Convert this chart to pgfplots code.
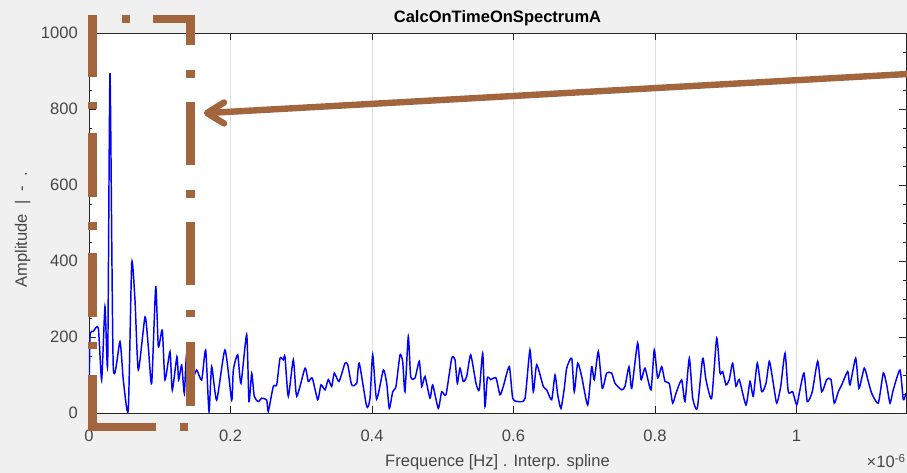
\documentclass[border=0pt]{standalone}
\usepackage{pgfplots}
\pgfplotsset{compat=1.18}
\usepackage{fontspec}
\setmainfont{Liberation Sans}
\definecolor{bgcol}{HTML}{F0F0F0}
\definecolor{axcol}{HTML}{262626}
\definecolor{gridcol}{HTML}{DFDFDF}
\definecolor{brn}{HTML}{A2653E}
\pgfplotstableread{
x y
0 0
0.0014 200
0.0061 215
0.0132 223
0.0179 87
0.0226 280
0.0264 131
0.0297 894
0.0343 122
0.0438 188
0.0485 87
0.0555 8
0.0604 394
0.0650 297
0.0697 113
0.0792 253
0.0838 175
0.0886 78
0.0943 332
0.0980 175
0.1036 218
0.1074 87
0.1145 161
0.1177 60
0.1243 148
0.1267 87
0.1310 126
0.1347 52
0.1381 157
0.1456 90
0.1522 113
0.1593 87
0.1649 166
0.1696 4
0.1734 122
0.1805 34
0.1922 166
0.2017 34
0.2040 113
0.2102 153
0.2148 78
0.2229 206
0.2261 30
0.2300 104
0.2336 44
0.2393 30
0.2441 39
0.2512 34
0.2534 4
0.2605 70
0.2653 74
0.2700 144
0.2746 140
0.2770 148
0.2817 44
0.2888 140
0.2936 44
0.3053 118
0.3100 83
0.3156 92
0.3233 35
0.3279 74
0.3336 61
0.3382 88
0.3430 70
0.3467 105
0.3534 83
0.3618 131
0.3657 127
0.3713 74
0.3784 78
0.3820 131
0.3925 17
0.3972 39
0.4010 153
0.4065 36
0.4160 113
0.4208 78
0.4245 12
0.4293 56
0.4339 70
0.4396 153
0.4434 135
0.4466 56
0.4513 201
0.4547 96
0.4608 92
0.4669 136
0.4703 70
0.4749 96
0.4820 39
0.4858 74
0.4937 12
0.4985 56
0.5046 48
0.5127 144
0.5173 140
0.5206 78
0.5244 118
0.5290 83
0.5339 96
0.5395 153
0.5470 78
0.5517 61
0.5565 157
0.5597 17
0.5630 92
0.5678 88
0.5753 92
0.5809 48
0.5856 70
0.5941 122
0.5989 39
0.6068 30
0.6163 39
0.6233 166
0.6280 56
0.6328 127
0.6421 70
0.6469 61
0.6540 35
0.6587 100
0.6625 48
0.6671 12
0.6718 65
0.6752 118
0.6823 144
0.6859 56
0.6907 131
0.6964 96
0.7049 21
0.7105 122
0.7142 87
0.7199 162
0.7255 65
0.7317 105
0.7388 105
0.7435 78
0.7529 61
0.7576 70
0.7633 122
0.7671 65
0.7755 184
0.7802 88
0.7859 118
0.7943 61
0.7990 166
0.8038 92
0.8095 122
0.8141 83
0.8202 78
0.8250 26
0.8297 52
0.8377 87
0.8424 30
0.8485 144
0.8533 39
0.8598 12
0.8674 144
0.8721 87
0.8801 39
0.8872 197
0.8919 105
0.8957 109
0.9004 74
0.9050 88
0.9098 131
0.9145 70
0.9191 88
0.9286 21
0.9343 83
0.9389 44
0.9446 131
0.9508 56
0.9569 78
0.9616 136
0.9664 88
0.9720 26
0.9777 70
0.9838 157
0.9884 56
0.9946 56
1.0003 21
1.0049 61
1.0106 105
1.0153 30
1.0223 56
1.0300 136
1.0356 56
1.0427 88
1.0488 88
1.0534 26
1.0591 56
1.0639 74
1.0724 109
1.0756 74
1.0837 144
1.0883 65
1.0958 118
1.1015 83
1.1063 52
1.1156 26
1.1227 105
1.1275 74
1.1322 26
1.1368 61
1.1463 113
1.1510 35
1.1548 52
}\spectrum
\begin{document}
\begin{tikzpicture}
\useasboundingbox (0,0) rectangle (680.25pt,354.75pt);
\fill[bgcol] (0,0) rectangle (680.25pt,354.75pt);
\begin{axis}[
  at={(66.75pt,45pt)}, anchor=south west,
  scale only axis, width=612.75pt, height=285pt,
  xmin=0, xmax=1.1548, ymin=0, ymax=1000,
  axis background/.style={fill=white},
  axis line style={axcol, line width=0.6pt},
  xtick={0,0.2,0.4,0.6,0.8,1},
  xticklabels={0,0.2,0.4,0.6,0.8,1},
  ytick={0,200,400,600,800,1000},
  yticklabels={0,200,400,600,800,1000},
  minor y tick num=3,
  tick align=inside,
  tick style={axcol, line width=0.5pt},
  major tick length=5pt, minor tick length=2.5pt,
  xmajorgrids, grid style={gridcol, line width=0.6pt},
  /pgf/number format/assume math mode=true,
  /pgf/number format/1000 sep={},
  every axis title shift=0pt,
  ticklabel style={font=\fontsize{12.4}{14}\selectfont, text=axcol!85},
  xticklabel style={anchor=base, yshift=-21.75pt},
  yticklabel style={anchor=east, inner sep=0pt, xshift=-8.25pt},
  title={\textbf{CalcOnTimeOnSpectrumA}},
  title style={at={(axis description cs:0.5,1.0263)}, anchor=base, font=\fontsize{12.4}{14}\selectfont, text=black},
  xlabel={Frequence [Hz] . Interp. spline},
  xlabel style={at={(axis description cs:0.5,-0.1421)}, anchor=base, font=\fontsize{12.4}{14}\selectfont, text=axcol!85},
  ylabel={Amplitude\ \ |\ \ -\ \ .},
  ylabel style={at={(axis description cs:-0.0759,0.482)}, anchor=base, rotate=0, font=\fontsize{12.4}{14}\selectfont, text=axcol!85},
  clip=true,
]
\addplot[color={rgb,255:red,0;green,0;blue,255}, line width=1.1pt, smooth, tension=0.35] table[x=x,y=y] {\spectrum};
\end{axis}
\begin{scope}[x=0.75pt, y=-0.75pt, shift={(0,354.75pt)}]
  \node[anchor=base east, inner sep=0pt, text=axcol!85, font=\fontsize{12.4}{14}\selectfont] at (906,468) {×10\textsuperscript{-6}};
  \begin{scope}[brn, line width=6.2pt, line cap=butt]
    \foreach \a/\b in {15/77,102/109,133/197,222/230,253/317,342/349,375/431}
      \draw (92.5,\a) -- (92.5,\b);
    \foreach \a/\b in {15/45,70/78,102/165,190/198,222/285,310/317,342/406}
      \draw (190.5,\a) -- (190.5,\b);
    \foreach \a/\b in {122/130,153/195}
      \draw (\a,19) -- (\b,19);
    \foreach \a/\b in {88/156,180/188}
      \draw (\a,427) -- (\b,427);
  \end{scope}
  \draw[brn, line width=4.8pt, line cap=round, line join=round] (908,74) -- (208,113);
  \draw[brn, line width=4.8pt, line cap=round, line join=round] (224,102.5) -- (207,113) -- (224,123.5);
\end{scope}
\end{tikzpicture}
\end{document}
